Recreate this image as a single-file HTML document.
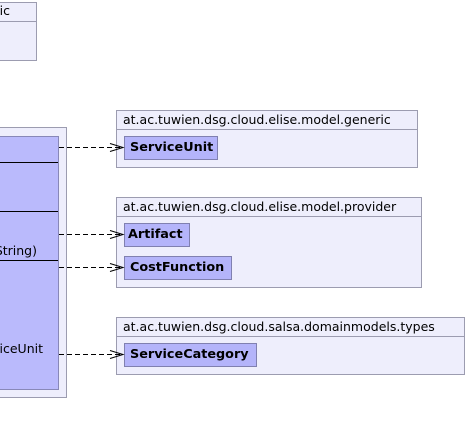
<!DOCTYPE html>
<html><head><style>
body{margin:0;width:467px;height:435px;background:#fff;position:relative;overflow:hidden;font-family:"DejaVu Sans","Liberation Sans",sans-serif;font-size:12.5px;color:#000}
div{position:absolute;box-sizing:border-box}
.pk{background:#eeeefc;border:1px solid #9c9cb0}
.hd{border-bottom:1px solid #9c9cb0;left:0;right:0;top:0;height:19px;padding:1px 0 0 6px;white-space:nowrap;overflow:hidden}
.cl{background:#b4b4fa;border:1px solid #8080b0;font-weight:bold;font-size:12.8px;padding:3px 0 0 5px;white-space:nowrap}
.ln{height:1px;background:#000;left:0}
.rt{text-align:right;white-space:nowrap;left:-200px}
</style></head><body>
<div class="pk" style="left:-10px;top:2px;width:47px;height:59px"><div class="hd" style="padding:0"></div></div>
<div class="rt" style="top:3px;width:210px">ic</div>

<div class="pk" style="left:-10px;top:127px;width:77px;height:271px"></div>
<div style="left:-10px;top:136px;width:69px;height:254px;background:#babafc;border:1px solid #8888b8"></div>
<div class="ln" style="top:162px;width:58px"></div>
<div class="ln" style="top:211px;width:58px"></div>
<div class="ln" style="top:260px;width:58px"></div>
<div class="rt" style="top:243px;width:237px">String)</div>
<div class="rt" style="top:341px;width:243px">ServiceUnit</div>

<div class="pk" style="left:116px;top:110px;width:302px;height:58px"><div class="hd">at.ac.tuwien.dsg.cloud.elise.model.generic</div></div>
<div class="cl" style="left:124px;top:136px;width:94px;height:24px">ServiceUnit</div>

<div class="pk" style="left:116px;top:197px;width:306px;height:91px"><div class="hd">at.ac.tuwien.dsg.cloud.elise.model.provider</div></div>
<div class="cl" style="left:124px;top:223px;width:66px;height:24px;padding-left:3px">Artifact</div>
<div class="cl" style="left:124px;top:256px;width:108px;height:24px">CostFunction</div>

<div class="pk" style="left:116px;top:317px;width:349px;height:58px"><div class="hd">at.ac.tuwien.dsg.cloud.salsa.domainmodels.types</div></div>
<div class="cl" style="left:124px;top:343px;width:133px;height:24px">ServiceCategory</div>

<svg width="467" height="435" style="position:absolute;left:0;top:0" fill="none" stroke="#000">
<g stroke-dasharray="5,3">
<line x1="59" y1="147.5" x2="122" y2="147.5"/>
<line x1="59" y1="234.5" x2="122" y2="234.5"/>
<line x1="59" y1="267.5" x2="122" y2="267.5"/>
<line x1="59" y1="354.5" x2="122" y2="354.5"/>
</g>
<g>
<path d="M110 143.5L123 147.5L110 151.5"/>
<path d="M110 230.5L123 234.5L110 238.5"/>
<path d="M110 263.5L123 267.5L110 271.5"/>
<path d="M110 350.5L123 354.5L110 358.5"/>
</g>
</svg>
</body></html>
